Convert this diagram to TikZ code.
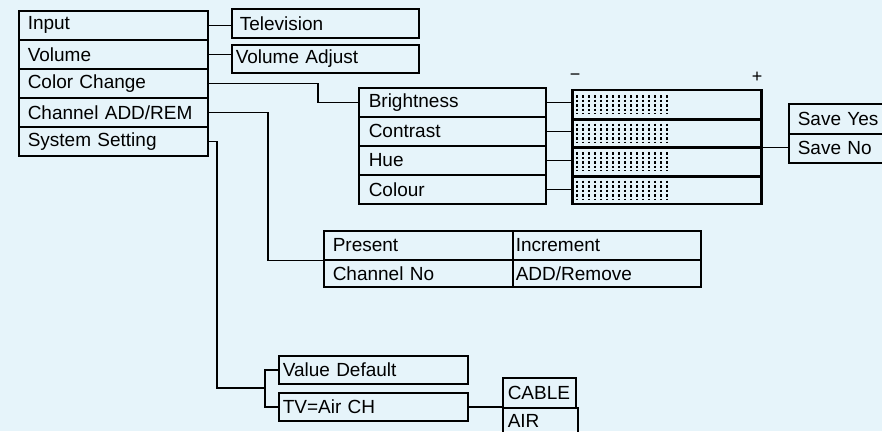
\documentclass[tikz,border=0pt]{standalone}
\usepackage{fontspec}
\setmainfont{Liberation Sans}
\definecolor{bgblue}{RGB}{230,244,250}
\tikzset{
  cell/.style={draw, line width=1.5pt, rectangle, anchor=north west, inner ysep=0pt,
    align=left, font=\fontsize{19}{20}\selectfont},
  cw/.style 2 args={/utils/exec={\pgfmathsetmacro\cwval{#1-2*#2}}, text width=\cwval pt, inner xsep=#2pt},
  wire/.style={line width=1.5pt},
  sep/.style={line width=3pt},
  bar/.style={line width=1.6pt, dash pattern=on 2.5pt off 2pt}
}
\begin{document}
\begin{tikzpicture}[x=1pt,y=-1pt]
\clip (0,0) rectangle (882,431);
\fill[bgblue] (0,0) rectangle (882,431);

% main menu
\node[cell, cw={189}{9}, minimum height=29pt] (inp) at (18,10) {Input};
\node[cell, cw={189}{9}, minimum height=29pt] (vol) at (18,39) {Volume};
\node[cell, cw={189}{9}, minimum height=29pt] (col) at (18,68) {Color Change};
\node[cell, cw={189}{9}, minimum height=29pt] (car) at (18,97) {Channel ADD/REM};
\node[cell, cw={189}{9}, minimum height=29pt] (sys) at (18,126) {System Setting};

% first level
\node[cell, cw={187}{8}, minimum height=29pt] (tv) at (231,8) {Television};
\node[cell, cw={187}{4}, minimum height=28pt] (vad) at (231,44) {Volume Adjust};
\draw[wire] (inp.east) -- (inp.east -| tv.west);
\draw[wire] (vol.east) -- (vol.east -| vad.west);

% picture settings
\node[cell, cw={187}{10}, minimum height=29pt] (bri) at (358,87) {Brightness};
\node[cell, cw={187}{10}, minimum height=29pt] (con) at (358,116) {Contrast};
\node[cell, cw={187}{10}, minimum height=29pt] (hue) at (358,145) {Hue};
\node[cell, cw={187}{10}, minimum height=29pt] (clr) at (358,174) {Colour};
\draw[wire] (col.east) -| ([xshift=-40pt]bri.west) -- (bri.west);

% sliders
\node[cell, minimum width=188pt, minimum height=28.5pt, inner xsep=0pt] (s1) at (572,89) {};
\node[cell, minimum width=188pt, minimum height=28.5pt, inner xsep=0pt] (s2) at (572,117.5) {};
\node[cell, minimum width=188pt, minimum height=28.5pt, inner xsep=0pt] (s3) at (572,146) {};
\node[cell, minimum width=188pt, minimum height=28.5pt, inner xsep=0pt] (s4) at (572,174.5) {};
\draw[sep] (s1.south west) -- (s1.south east);
\draw[sep] (s2.south west) -- (s2.south east);
\draw[sep] (s3.south west) -- (s3.south east);
\draw[sep] (s1.north east) -- (s4.south east);
\draw[line width=2pt] (s1.north west) -- (s4.south west);
\foreach \r in {s1,s2,s3,s4}{
  \foreach \i in {0,...,15}{
    \pgfmathsetmacro\bx{6*\i+5}
    \draw[bar] ([xshift=\bx pt, yshift=-6pt]\r.north west) -- ([xshift=\bx pt, yshift=5pt]\r.south west);
  }
}
\node[font=\fontsize{18}{18}\selectfont, inner sep=0pt] (minus) at (575,77) {−};
\node[font=\fontsize{18}{18}\selectfont, inner sep=0pt] (plus) at (757,77) {+};
\draw[wire] (bri.east) -- (bri.east -| s1.west);
\draw[wire] (con.east) -- (con.east -| s2.west);
\draw[wire] (hue.east) -- (hue.east -| s3.west);
\draw[wire] (clr.east) -- (clr.east -| s4.west);

% save
\node[cell, cw={110}{9}, minimum height=30pt] (sy) at (788,103) {Save Yes};
\node[cell, cw={110}{9}, minimum height=29pt] (sn) at (788,133) {Save No};
\draw[wire] (s2.south east) -- (s2.south east -| sy.west);

% channel
\node[cell, cw={189}{9}, minimum height=29pt] (pre) at (323,230) {Present};
\node[cell, cw={189}{9}, minimum height=27pt] (chn) at (323,259) {Channel No};
\node[cell, cw={188}{3}, minimum height=29pt] (inc) at (512,230) {Increment};
\node[cell, cw={188}{3}, minimum height=27pt] (adr) at (512,259) {ADD/Remove};
\draw[wire] (car.east) -| ([xshift=-55pt]pre.south west) -- (pre.south west);

% system
\node[cell, cw={189}{4}, minimum height=28pt] (vd) at (278,355) {Value Default};
\node[cell, cw={189}{4}, minimum height=28pt] (tva) at (278,392) {TV=Air CH};
\coordinate (drop) at (217,388);
\coordinate (brk) at (265,388);
\draw[wire] (sys.east) -| (drop) -- (brk);
\draw[wire] (vd.west) -| (brk) |- (tva.west);
\node[cell, cw={73}{5}, minimum height=30pt] (cab) at (502,377) {CABLE};
\node[cell, cw={75}{5}, minimum height=26pt] (air) at (502,407) {AIR};
\draw[wire] (tva.east) -- (tva.east -| cab.west);
\end{tikzpicture}
\end{document}
